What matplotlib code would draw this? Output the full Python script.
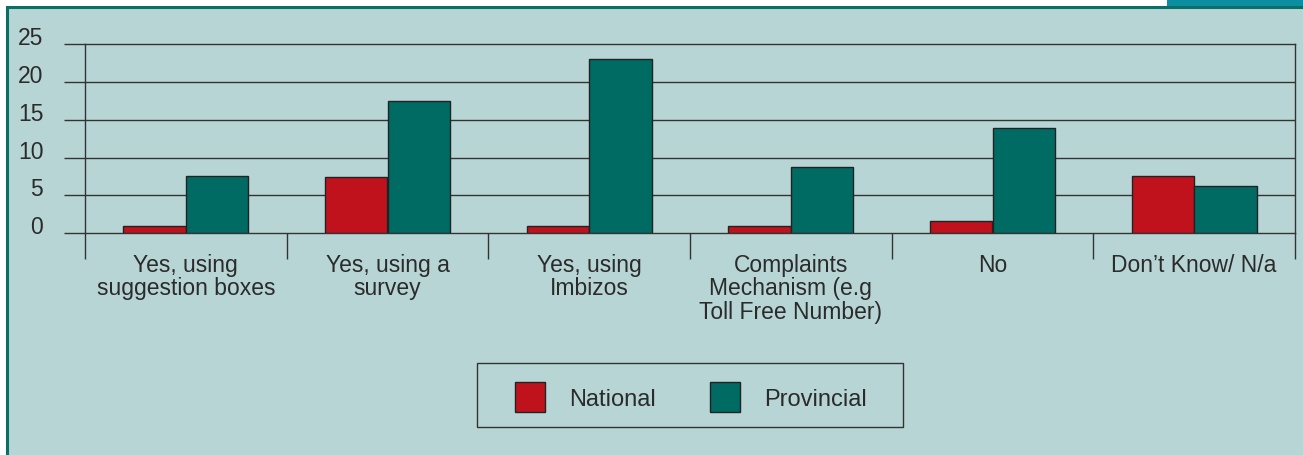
import matplotlib.pyplot as plt
import matplotlib.patches as mpatches
import numpy as np

plt.rcParams['font.family'] = ['Liberation Sans', 'DejaVu Sans']

categories = ["Yes, using\nsuggestion boxes", "Yes, using a\nsurvey", "Yes, using\nImbizos",
              "Complaints\nMechanism (e.g\nToll Free Number)", "No", "Don\u2019t Know/ N/a"]
national = [1.0, 7.4, 0.9, 0.9, 1.6, 7.6]
provincial = [7.6, 17.5, 23.0, 8.7, 13.9, 6.3]
yticks = [0, 5, 10, 15, 20, 25]

bg = '#b7d5d5'
red = '#c0121c'
teal = '#006b63'
ink = '#2b2b2b'

W, H = 1303, 456
fig = plt.figure(figsize=(W / 100, H / 100), dpi=100, facecolor='white')

# panel background with dark teal border + tab in the top-right corner
fig.patches.append(mpatches.Rectangle((6.5 / W, -0.1), 1.2, 1.1 - 8 / H, transform=fig.transFigure,
                                      facecolor=bg, edgecolor='#0b6f67', lw=2.2, zorder=-10))
fig.patches.append(mpatches.Rectangle((1167 / W, 1 - 7 / H), 1, 7 / H, transform=fig.transFigure,
                                      facecolor='#0a8ea0', edgecolor='none', zorder=-10))

ax = fig.add_axes([85 / W, 1 - 234.3 / H, (1295 - 85) / W, (234.3 - 45) / H])
ax.set_facecolor(bg)

x = np.arange(len(categories))
w = 0.31
ax.bar(x - w / 2, national, w, color=red, edgecolor='#222222', lw=1.0, label='National', zorder=3)
ax.bar(x + w / 2, provincial, w, color=teal, edgecolor='#222222', lw=1.0, label='Provincial', zorder=3)

ax.set_xlim(-0.5, len(categories) - 0.5)
ax.set_ylim(0, 25)

for v in yticks[1:-1]:
    ax.axhline(v, color='#333333', lw=1.0, zorder=1)

# y ticks extend left of the axis like the grid lines
ax.set_yticks(yticks)
ax.set_yticklabels([str(v) for v in yticks])
ax.tick_params(axis='y', length=15, width=1.0, color='#333333', pad=15,
               labelsize=16.5, labelcolor=ink)
for lab in ax.get_yticklabels():
    lab.set_va('baseline')

# category separators below the axis, labels centred
ax.set_xticks(np.arange(len(categories) + 1) - 0.5)
ax.set_xticklabels([])
ax.tick_params(axis='x', which='major', length=18.5, width=1.0, color='#333333')
ax.set_xticks(x, minor=True)
ax.set_xticklabels(categories, minor=True, fontsize=16.5, color=ink, linespacing=1.03)
ax.tick_params(axis='x', which='minor', length=0, pad=14)

for s in ax.spines.values():
    s.set_color('#333333')
    s.set_linewidth(1.0)

# legend box
fig.patches.append(mpatches.Rectangle((477 / W, 1 - 428 / H), 426 / W, 64 / H, transform=fig.transFigure,
                                      facecolor='none', edgecolor='#333333', lw=1.0))
fs = 17
fig.legend(loc='center', bbox_to_anchor=(691 / W, 1 - 398 / H), ncol=2, frameon=False,
           fontsize=fs, handlelength=1.27, handleheight=1.55, handletextpad=1.0,
           columnspacing=2.32, labelcolor=ink)

fig.savefig('out.png', dpi=100, facecolor='white')
